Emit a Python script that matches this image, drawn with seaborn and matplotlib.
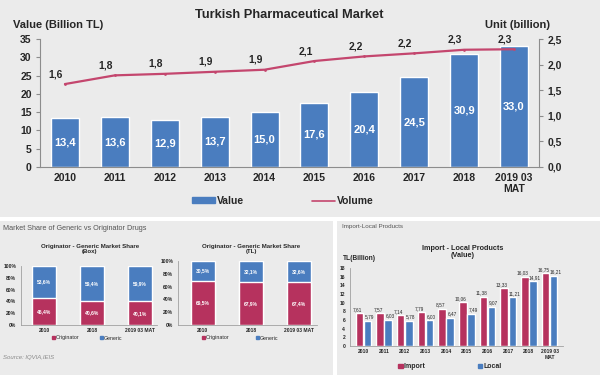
import numpy as np
import pandas as pd
import matplotlib.pyplot as plt
import matplotlib.patches as mpatches
from matplotlib.lines import Line2D
from matplotlib.ticker import FuncFormatter, FixedLocator
import seaborn as sns

# Top chart: market value (bars) and volume (line)
years = ['2010', '2011', '2012', '2013', '2014', '2015', '2016', '2017', '2018', '2019 03\nMAT']
value_tl = [13.4, 13.6, 12.9, 13.7, 15.0, 17.6, 20.4, 24.5, 30.9, 33.0]
volume_units = [1.62, 1.79, 1.82, 1.86, 1.90, 2.07, 2.16, 2.22, 2.29, 2.30]

# Bottom left: originator / generic shares
share_years = ['2010', '2018', '2019 03 MAT']
box_originator = [46.4, 40.6, 40.1]
box_generic = [53.6, 59.4, 59.9]
tl_originator = [69.5, 67.9, 67.4]
tl_generic = [30.5, 32.1, 32.6]

# Bottom right: import vs local products
import_vals = [7.61, 7.57, 7.14, 7.79, 8.57, 10.06, 11.38, 13.33, 16.03, 16.75]
local_vals = [5.79, 6.03, 5.78, 6.00, 6.47, 7.49, 9.07, 11.21, 14.91, 16.21]

BLUE = '#4a7dbf'
RED = '#b6325e'
LINE = '#c4466e'
PANEL = '#ebebeb'
SPINE = '#8c8c8c'

sns.set_style('white')
plt.rcParams['font.family'] = ['Liberation Sans', 'DejaVu Sans']


def comma(v, nd=1):
    return f'{v:.{nd}f}'.replace('.', ',')


fig = plt.figure(figsize=(6, 3.75), dpi=100)
fig.patch.set_facecolor('white')
W, H = 600, 375


def fx(px):
    return px / W


def fy(py):
    return 1 - py / H


# panel backgrounds
for x0, y0, x1, y1 in [(0, 0, 600, 217), (0, 221, 333, 375), (337, 221, 600, 375)]:
    fig.add_artist(mpatches.Rectangle((fx(x0), fy(y1)), fx(x1 - x0), (y1 - y0) / H,
                                      transform=fig.transFigure, facecolor=PANEL,
                                      edgecolor='none', zorder=-10))

# ---------------- top chart ----------------
ax = fig.add_axes([fx(40), fy(167), fx(499), 128 / H])
ax.set_facecolor('none')
sns.barplot(x=years, y=value_tl, color=BLUE, width=0.56, saturation=1, ax=ax)
ax.set_ylim(0, 35)
ax.set_xlim(-0.5, 9.5)
ax.set_yticks(range(0, 36, 5))
for i, v in enumerate(value_tl):
    ax.text(i, v / 2, comma(v), ha='center', va='center', color='white',
            fontsize=8, fontweight='bold')

ax2 = ax.twinx()
sns.lineplot(x=range(len(years)), y=volume_units, color=LINE, linewidth=1.6,
             marker='o', markersize=2, markeredgewidth=0, ax=ax2)
ax2.set_ylim(0, 2.5)
ax2.set_yticks(np.arange(0, 2.51, 0.5))
ax2.yaxis.set_major_formatter(FuncFormatter(lambda v, p: comma(v)))
for i, v in enumerate(volume_units):
    ax2.annotate(comma(v), (i, v), xytext=(-9, 5), textcoords='offset pixels',
                 ha='center', va='bottom', fontsize=7.5, fontweight='bold')
ax2.set_xlim(-0.5, 9.5)

for a in (ax, ax2):
    for s in a.spines.values():
        s.set_color(SPINE)
        s.set_linewidth(0.8)
    a.spines['top'].set_visible(False)
ax.spines['right'].set_visible(False)
ax2.spines['left'].set_visible(False)
ax2.spines['bottom'].set_visible(False)
ax.tick_params(axis='y', length=3, color=SPINE, labelsize=7.5, pad=3)
ax2.tick_params(axis='y', length=3, color=SPINE, labelsize=7.5, pad=3)
ax.tick_params(axis='x', which='major', length=0, labelsize=7.5, pad=4)
ax.xaxis.set_minor_locator(FixedLocator(np.arange(-0.5, 10, 1)))
ax.tick_params(axis='x', which='minor', length=3, color=SPINE)
for lab in ax.get_xticklabels() + ax.get_yticklabels() + ax2.get_yticklabels():
    lab.set_fontweight('bold')
ax.set_xlabel('')
ax.set_ylabel('')
ax2.set_ylabel('')

fig.text(fx(289), fy(15), 'Turkish Pharmaceutical Market', ha='center', va='center',
         fontsize=9.3, fontweight='bold')
fig.text(fx(13), fy(25), 'Value (Billion TL)', ha='left', va='center',
         fontsize=8, fontweight='bold')
fig.text(fx(485), fy(25), 'Unit (billion)', ha='left', va='center',
         fontsize=8, fontweight='bold')

fig.legend(handles=[mpatches.Patch(color=BLUE), Line2D([], [], color=LINE, lw=1.2)],
           labels=['Value', 'Volume'], loc='center', bbox_to_anchor=(fx(283), fy(201)),
           ncol=2, frameon=False, handlelength=2.2, handleheight=0.45,
           handletextpad=0.2, columnspacing=6.5, prop={'weight': 'bold', 'size': 7.5})

# ---------------- share charts ----------------
fig.text(fx(3), fy(229), 'Market Share of Generic vs Originator Drugs', ha='left',
         va='center', fontsize=5.2, color='#555555')
fig.text(fx(3), fy(358), 'Source: IQVIA,IEIS', ha='left', va='center',
         fontsize=4.3, color='#8a8a8a', style='italic')


def share_chart(rect, orig, gen, title, xlim, title_x, leg_x, leg_gap):
    a = fig.add_axes(rect)
    a.set_facecolor('none')
    total = [o + g for o, g in zip(orig, gen)]
    sns.barplot(x=share_years, y=total, color=BLUE, width=0.5, saturation=1, ax=a)
    sns.barplot(x=share_years, y=orig, color=RED, width=0.5, saturation=1, ax=a)
    for i, (o, g) in enumerate(zip(orig, gen)):
        a.text(i, o / 2, comma(o) + '%', ha='center', va='center', color='white',
               fontsize=3.6, fontweight='bold')
        a.text(i, o + g / 2, comma(g) + '%', ha='center', va='center', color='white',
               fontsize=3.6, fontweight='bold')
    a.set_ylim(0, 100)
    a.set_xlim(*xlim)
    a.set_yticks(range(0, 101, 20))
    a.yaxis.set_major_formatter(FuncFormatter(lambda v, p: f'{v:.0f}%'))
    a.tick_params(axis='both', labelsize=3.6, length=1.5, color=SPINE, pad=2)
    a.tick_params(axis='x', length=0)
    for lab in a.get_xticklabels() + a.get_yticklabels():
        lab.set_fontweight('bold')
    for s in ['top', 'right']:
        a.spines[s].set_visible(False)
    for s in ['left', 'bottom']:
        a.spines[s].set_color('#a0a0a0')
        a.spines[s].set_linewidth(0.6)
    fig.text(fx(title_x), fy(249), title, ha='center', va='center', fontsize=4.4,
             fontweight='bold', linespacing=1.0)
    a.legend(handles=[mpatches.Patch(color=RED), mpatches.Patch(color=BLUE)],
             labels=['Originator', 'Generic'], loc='center',
             bbox_to_anchor=(fx(leg_x), fy(338)), bbox_transform=fig.transFigure,
             ncol=2, frameon=False, handlelength=0.6, handleheight=0.6,
             handletextpad=0.2, columnspacing=leg_gap, prop={'size': 3.8})


share_chart([fx(21), fy(325), fx(136), 59 / H], box_originator, box_generic,
            'Originator - Generic Market Share\n(Box)', (-0.48, 2.35), 90, 87, 3.8)
share_chart([fx(178), fy(325), fx(139), 64 / H], tl_originator, tl_generic,
            'Originator - Generic Market Share\n(TL)', (-0.52, 2.375), 251, 240, 5.0)

# ---------------- import / local ----------------
fig.text(fx(342), fy(227), 'Import-Local Products', ha='left', va='center',
         fontsize=4.5, color='#555555')
fig.text(fx(463), fy(252), 'Import - Local Products\n(Value)', ha='center', va='center',
         fontsize=5.2, fontweight='bold', linespacing=1.0)
fig.text(fx(343), fy(259), 'TL(Billion)', ha='left', va='center',
         fontsize=4.8, fontweight='bold')

df = pd.DataFrame({
    'year': years * 2,
    'value': import_vals + local_vals,
    'kind': ['Import'] * len(years) + ['Local'] * len(years),
})
ax3 = fig.add_axes([fx(350), fy(346), fx(213), 78 / H])
ax3.set_facecolor('none')
sns.barplot(data=df, x='year', y='value', hue='kind', palette=[RED, BLUE],
            width=0.8, gap=0.08, saturation=1, ax=ax3, legend=False)
# nudge import labels left and local labels right so neighbours don't collide
for cont, vals, dx in zip(ax3.containers, [import_vals, local_vals], [-2, 2]):
    for bar, v in zip(cont, vals):
        ax3.annotate(comma(v, 2), (bar.get_x() + bar.get_width() / 2, v),
                     xytext=(dx, 1.2), textcoords='offset pixels',
                     ha='center', va='bottom', fontsize=3.4)
ax3.set_ylim(0, 18)
ax3.set_yticks(range(0, 19, 2))
ax3.set_xlim(-0.65, 9.65)
ax3.set_xlabel('')
ax3.set_ylabel('')
ax3.tick_params(axis='both', labelsize=3.6, length=1.5, color=SPINE, pad=2)
ax3.tick_params(axis='x', length=0)
for lab in ax3.get_xticklabels() + ax3.get_yticklabels():
    lab.set_fontweight('bold')
for s in ['top', 'right']:
    ax3.spines[s].set_visible(False)
for s in ['left', 'bottom']:
    ax3.spines[s].set_color('#a0a0a0')
    ax3.spines[s].set_linewidth(0.6)
ax3.legend(handles=[mpatches.Patch(color=RED), mpatches.Patch(color=BLUE)],
           labels=['Import', 'Local'], loc='center',
           bbox_to_anchor=(fx(450), fy(367)), bbox_transform=fig.transFigure,
           ncol=2, frameon=False, handlelength=0.6, handleheight=0.6,
           handletextpad=0.2, columnspacing=7.5, prop={'size': 5, 'weight': 'bold'})

fig.savefig('out.png', dpi=100)
